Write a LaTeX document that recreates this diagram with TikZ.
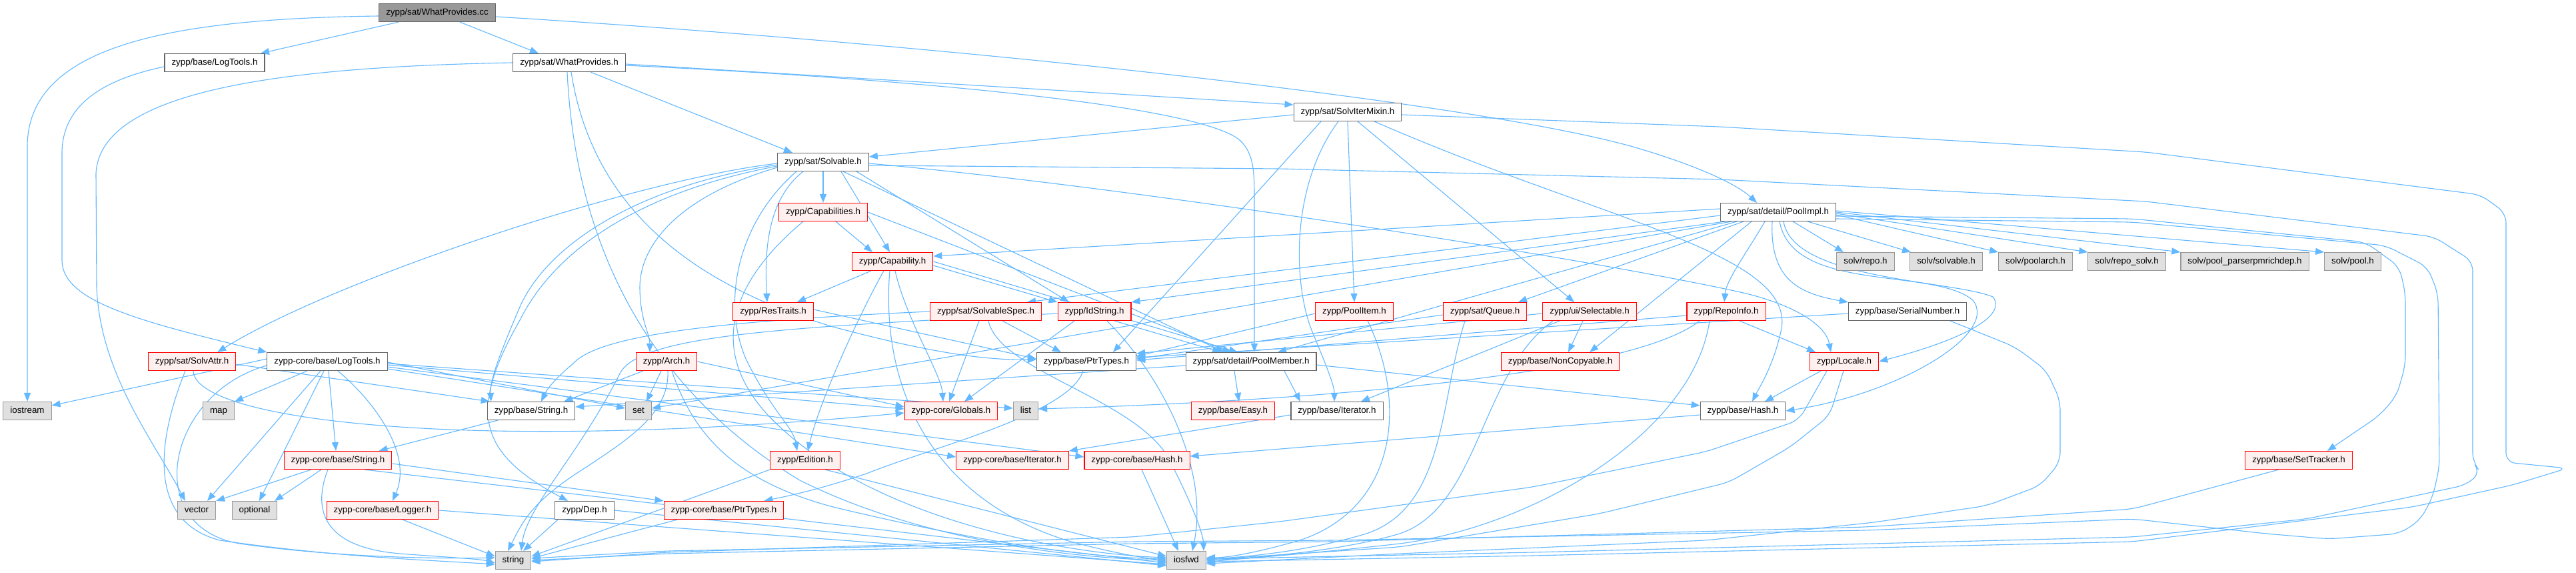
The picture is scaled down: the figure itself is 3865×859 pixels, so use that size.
\documentclass[tikz,border=0pt]{standalone}
\usepackage{fontspec}
\setmainfont{Liberation Sans}
\usetikzlibrary{arrows.meta}
\definecolor{edgeblue}{HTML}{63B8FF}
\definecolor{rootfill}{HTML}{999999}
\definecolor{nodeborder}{HTML}{666666}
\definecolor{redfill}{HTML}{FFF0F0}
\definecolor{sysfill}{HTML}{E0E0E0}
\definecolor{sysborder}{HTML}{999999}
\pgfdeclarelayer{bg}
\pgfsetlayers{bg,main}
\tikzset{
  box/.style={draw=nodeborder, fill=white, line width=1.1pt, minimum height=27pt,
    inner xsep=10.5pt, inner ysep=0pt, text height=9.6pt, text depth=2.8pt,
    font=\fontsize{13.33pt}{16pt}\selectfont, text=black},
  rootbox/.style={box, fill=rootfill},
  redbox/.style={box, draw=red, fill=redfill},
  sysbox/.style={box, draw=sysborder, fill=sysfill},
  arr/.style={draw=edgeblue, line width=1.1pt, -{Triangle[length=13pt,width=10pt]}},
}
\begin{document}
\begin{tikzpicture}[x=1pt,y=-1pt]
\useasboundingbox (0,0) rectangle (3865,859);
% ---------------- nodes ----------------
\node[rootbox] (root) at (656,19) {zypp/sat/WhatProvides.cc};
\node[box] (blt) at (322,94) {zypp/base/LogTools.h};
\node[box] (wph) at (854,94) {zypp/sat/WhatProvides.h};
\node[box] (sim) at (2022,168) {zypp/sat/SolvIterMixin.h};
\node[box] (solv) at (1235,243) {zypp/sat/Solvable.h};
\node[box] (pim) at (2668,318) {zypp/sat/detail/PoolImpl.h};
\node[redbox] (caps) at (1235,318) {zypp/Capabilities.h};
\node[redbox] (cap) at (1339,392) {zypp/Capability.h};
\node[sysbox] (repo) at (2799,392) {solv/repo.h};
\node[sysbox] (solvable) at (2920,392) {solv/solvable.h};
\node[sysbox] (poolarch) at (3054,392) {solv/poolarch.h};
\node[sysbox] (reposolv) at (3191,392) {solv/repo\_solv.h};
\node[sysbox] (richdep) at (3368,392) {solv/pool\_parserpmrichdep.h};
\node[sysbox] (pool) at (3530,392) {solv/pool.h};
\node[redbox] (restraits) at (1160,467) {zypp/ResTraits.h};
\node[redbox] (sspec) at (1479,467) {zypp/sat/SolvableSpec.h};
\node[redbox] (idstr) at (1642,467) {zypp/IdString.h};
\node[redbox] (poolitem) at (2032,467) {zypp/PoolItem.h};
\node[redbox] (queue) at (2228,467) {zypp/sat/Queue.h};
\node[redbox] (selectable) at (2385,467) {zypp/ui/Selectable.h};
\node[redbox] (repoinfo) at (2590,467) {zypp/RepoInfo.h};
\node[box] (serial) at (2862,467) {zypp/base/SerialNumber.h};
\node[redbox] (sattr) at (288,542) {zypp/sat/SolvAttr.h};
\node[box] (clt) at (491,542) {zypp-core/base/LogTools.h};
\node[redbox] (arch) at (1000,542) {zypp/Arch.h};
\node[box] (bptr) at (1630,542) {zypp/base/PtrTypes.h};
\node[box] (pmem) at (1877,542) {zypp/sat/detail/PoolMember.h};
\node[redbox] (noncopy) at (2341,542) {zypp/base/NonCopyable.h};
\node[redbox] (locale) at (2767,542) {zypp/Locale.h};
\node[sysbox] (iostream) at (41,616) {iostream};
\node[sysbox] (map) at (328,616) {map};
\node[box] (bstr) at (797,616) {zypp/base/String.h};
\node[sysbox] (set) at (958,616) {set};
\node[redbox] (globals) at (1427,616) {zypp-core/Globals.h};
\node[sysbox] (list) at (1539,616) {list};
\node[redbox] (easy) at (1850,616) {zypp/base/Easy.h};
\node[box] (biter) at (2006,616) {zypp/base/Iterator.h};
\node[box] (bhash) at (2615,616) {zypp/base/Hash.h};
\node[redbox] (cstr) at (507,690) {zypp-core/base/String.h};
\node[redbox] (edition) at (1208,690) {zypp/Edition.h};
\node[redbox] (citer) at (1519,690) {zypp-core/base/Iterator.h};
\node[redbox] (chash) at (1706,690) {zypp-core/base/Hash.h};
\node[redbox] (settracker) at (3449,690) {zypp/base/SetTracker.h};
\node[sysbox] (vector) at (295,765) {vector};
\node[sysbox] (optional) at (382,765) {optional};
\node[redbox] (logger) at (574,765) {zypp-core/base/Logger.h};
\node[box] (dep) at (877,765) {zypp/Dep.h};
\node[redbox] (cptr) at (1086,765) {zypp-core/base/PtrTypes.h};
\node[sysbox] (string) at (770,840) {string};
\node[sysbox] (iosfwd) at (1780,840) {iosfwd};
% ---------------- edges ----------------
\begin{pgfonlayer}{bg}
\fill[white] (0,0) rectangle (3865,859);
% root
\draw[arr] ([yshift=-5pt]root.west) .. controls (250,28) and (41,70) .. (41,220) -- (iostream.north);
\draw[arr] ([xshift=-58pt]root.south) -- ([xshift=69pt]blt.north);
\draw[arr] ([xshift=34pt]root.south) -- ([xshift=-46pt]wph.north);
\draw[arr] ([yshift=-6pt]root.east) .. controls (1400,65) and (2200,150) .. (2450,220) .. controls (2560,252) and (2610,280) .. ([xshift=-32pt]pim.north);
% zypp/base/LogTools.h
\draw[arr] ([yshift=-6pt]blt.west) .. controls (150,120) and (93,160) .. (93,230) -- (93,390) .. controls (93,450) and (200,480) .. (clt.north west);
% WhatProvides.h
\draw[arr] (wph.west) .. controls (450,100) and (150,130) .. (144,260) -- (145,430) .. controls (150,560) and (230,660) .. ([xshift=-17pt]vector.north);
\draw[arr] ([xshift=-3pt]wph.south) .. controls (865,400) and (1000,600) .. (1200,720) .. controls (1400,820) and (1650,838) .. (iosfwd.west);
\draw[arr] ([xshift=3pt]wph.south) .. controls (890,320) and (1050,430) .. (1250,490) .. controls (1400,530) and (1480,540) .. ([yshift=3pt]bptr.west);
\draw[arr] ([yshift=-4pt]wph.east) .. controls (1400,120) and (1800,160) .. (1860,210) .. controls (1882,230) and (1882,260) .. (1882,300) -- ([xshift=5pt]pmem.north);
\draw[arr] ([xshift=32pt]wph.south) -- ([xshift=-46pt]solv.north);
\draw[arr] ([yshift=-2pt]wph.east) -- ([yshift=11pt]sim.west);
% SolvIterMixin.h
\draw[arr, rounded corners=14pt] ([yshift=-4pt]sim.east) -- (2580,190) -- (3220,228) -- (3722,292) -- (3760,320) -- (3760,693) -- (3852,702) -- (3770,727) -- (3620,760) -- (3200,812) -- (2300,833) -- ([yshift=-2pt]iosfwd.east);
\draw[arr] ([xshift=-14pt]sim.south) .. controls (1935,280) and (1940,430) .. (1970,500) .. controls (1995,560) and (2002,580) .. ([xshift=-4pt]biter.north);
\draw[arr] ([xshift=40pt]sim.south) .. controls (2400,330) and (2700,380) .. (2672,497) .. controls (2660,550) and (2640,580) .. ([xshift=14pt]bhash.north);
\draw[arr] ([yshift=-4pt]sim.west) -- ([yshift=8pt]solv.east);
\draw[arr] (sim.south) -- (poolitem.north);
\draw[arr] ([xshift=15pt]sim.south) -- ([xshift=-23pt]selectable.north);
\draw[arr] ([xshift=-40pt]sim.south) -- ([xshift=40pt]bptr.north);
% Solvable.h
\draw[arr, rounded corners=14pt] ([yshift=-5pt]solv.east) -- (1920,253) -- (2580,269) -- (3220,302) -- (3652,355) -- (3710,392) -- (3710,693) -- (3722,708) -- (3700,727) -- (3460,778) -- (3200,805) -- (2300,828) -- ([yshift=2pt]iosfwd.east);
\draw[arr] ([xshift=30pt]solv.south) -- ([xshift=-40pt]pmem.north);
\draw[arr] ([yshift=-2pt]solv.west) .. controls (950,270) and (500,420) .. ([xshift=-28pt]sattr.north east);
\draw[arr] ([xshift=-30pt]solv.south) .. controls (1150,300) and (1147,380) .. ([xshift=-9pt]restraits.north);
\draw[arr] ([xshift=50pt]solv.south) -- ([xshift=-38pt]idstr.north);
\draw[arr] ([xshift=-40pt]solv.south) .. controls (1110,330) and (1080,450) .. (1120,540) .. controls (1160,620) and (1190,640) .. ([xshift=-12pt]edition.north);
\draw[arr] ([yshift=-8pt]solv.west) .. controls (1000,300) and (960,380) .. (960,430) .. controls (960,480) and (975,500) .. ([xshift=-25pt]arch.north);
\draw[arr] ([yshift=-6pt]solv.west) .. controls (950,290) and (830,380) .. (780,480) .. controls (700,620) and (720,680) .. ([xshift=-25pt]dep.north);
\draw[arr] ([yshift=-4pt]solv.west) .. controls (950,280) and (820,370) .. (780,460) .. controls (750,530) and (735,570) .. ([xshift=6pt]bstr.north west);
\draw[arr] (solv.south) -- (caps.north);
\draw[arr] ([xshift=27pt]solv.south) -- ([xshift=-4pt]cap.north);
\draw[arr] ([yshift=-2pt]solv.east) .. controls (1700,280) and (2400,390) .. (2620,440) .. controls (2700,460) and (2740,490) .. ([xshift=-20pt]locale.north);
% Capabilities.h
\draw[arr] ([xshift=19pt]caps.south) -- ([xshift=-30pt]cap.north);
\draw[arr] (caps.east) -- ([xshift=-30pt]pmem.north);
\draw[arr] ([xshift=-30pt]caps.south) .. controls (1100,420) and (1060,520) .. (1150,620) .. controls (1300,780) and (1600,830) .. ([yshift=4pt]iosfwd.west);
% Capability.h
\draw[arr] ([xshift=-32pt]cap.south) -- ([xshift=36pt]restraits.north);
\draw[arr] ([xshift=-13pt]cap.south) .. controls (1290,470) and (1230,600) .. ([xshift=4pt]edition.north);
\draw[arr] ([xshift=-4pt]cap.south) .. controls (1322,560) and (1380,740) .. (1600,810) .. controls (1680,832) and (1720,836) .. ([yshift=-2pt]iosfwd.west);
\draw[arr] ([xshift=4pt]cap.south) .. controls (1360,480) and (1412,560) .. ([xshift=-12pt]globals.north);
\draw[arr] ([yshift=-6pt]cap.east) -- (idstr.north west);
\draw[arr] (cap.east) -- ([xshift=-20pt]pmem.north);
% SolvAttr.h
\draw[arr] ([xshift=-10pt]sattr.south) .. controls (240,650) and (215,780) .. (330,810) .. controls (500,835) and (650,840) .. ([yshift=-6pt]string.west);
\draw[arr] ([yshift=-4pt]sattr.east) -- ([xshift=4pt]bstr.north west);
\draw[arr] ([xshift=2pt]sattr.south) .. controls (292,630) and (700,680) .. ([yshift=-3pt]globals.west);
% zypp-core/base/LogTools.h
\draw[arr] ([yshift=4pt]clt.west) -- ([yshift=8pt]iostream.east);
\draw[arr] ([yshift=-6pt]clt.west) .. controls (250,590) and (210,790) .. (360,815) .. controls (500,835) and (650,838) .. ([yshift=4pt]string.west);
\draw[arr] ([xshift=-30pt]clt.south) -- (map.north east);
\draw[arr] ([xshift=-10pt]clt.south) -- ([xshift=16pt]vector.north);
\draw[arr] ([xshift=-5pt]clt.south) -- ([xshift=7pt]optional.north);
\draw[arr] ([xshift=2pt]clt.south) -- ([xshift=-3pt]cstr.north);
\draw[arr] ([xshift=16pt]clt.south) .. controls (560,600) and (620,680) .. ([xshift=15pt]logger.north);
\draw[arr] ([yshift=-3pt]clt.east) -- ([yshift=4pt]list.west);
\draw[arr] ([yshift=-1pt]clt.east) -- ([yshift=4pt]set.west);
\draw[arr] ([yshift=-8pt]clt.east) -- ([yshift=5pt]chash.west);
\draw[arr] ([yshift=-11pt]clt.east) -- ([yshift=5pt]citer.west);
\draw[arr] ([yshift=-5pt]clt.east) -- ([yshift=3pt]globals.west);
% zypp-core/base/String.h
\draw[arr] ([xshift=-40pt]cstr.south) -- (vector.north east);
\draw[arr] ([xshift=-25pt]cstr.south) -- ([xshift=30pt]optional.north);
\draw[arr] ([xshift=-15pt]cstr.south) .. controls (470,760) and (480,820) .. (600,830) .. controls (680,836) and (720,838) .. ([yshift=-4pt]string.west);
\draw[arr] ([yshift=-5pt]cstr.east) -- (cptr.north west);
\draw[arr] ([xshift=40pt]cstr.south) -- ([yshift=-4pt]iosfwd.west);
% Logger.h
\draw[arr] ([xshift=30pt]logger.south) -- ([yshift=6pt]string.west);
\draw[arr] (logger.east) -- ([yshift=-6pt]iosfwd.west);
% ResTraits.h
\draw[arr] ([yshift=3pt]restraits.east) -- ([yshift=4pt]bptr.west);
% Arch.h
\draw[arr] ([xshift=-35pt]arch.south) -- ([xshift=-17pt]bstr.north east);
\draw[arr] ([xshift=-8pt]arch.south) -- ([xshift=12pt]set.north);
\draw[arr] ([xshift=2pt]arch.south) .. controls (1005,620) and (940,660) .. (880,700) .. controls (800,750) and (785,780) .. ([xshift=-8pt]string.north);
\draw[arr] ([xshift=8pt]arch.south) .. controls (1040,650) and (1100,720) .. (1250,760) .. controls (1500,820) and (1650,836) .. ([yshift=2pt]iosfwd.west);
\draw[arr] (arch.east) -- ([yshift=6pt]globals.west);
% zypp/base/String.h
\draw[arr] ([xshift=-50pt]bstr.south) -- ([xshift=-20pt]cstr.north east);
% Edition.h, Dep.h, PtrTypes
\draw[arr] (edition.south west) -- ([yshift=6pt]string.east);
\draw[arr] ([xshift=30pt]edition.south) -- ([yshift=6pt]iosfwd.west);
\draw[arr] ([xshift=-40pt]dep.south) -- ([xshift=15pt]string.north);
\draw[arr] (dep.east) -- ([yshift=-8pt]iosfwd.west);
\draw[arr] ([xshift=-70pt]cptr.south) -- ([yshift=3pt]string.east);
% SolvableSpec.h
\draw[arr] (sspec.west) .. controls (1100,480) and (900,500) .. (860,545) .. controls (830,570) and (820,585) .. ([xshift=15pt]bstr.north);
\draw[arr] ([xshift=-10pt]sspec.south) -- ([xshift=-3pt]globals.north);
\draw[arr] ([xshift=25pt]sspec.south) -- ([xshift=-38pt]bptr.north);
\draw[arr] ([xshift=4pt]sspec.south) .. controls (1500,560) and (1720,600) .. (1760,700) .. controls (1790,760) and (1805,800) .. ([xshift=26pt]iosfwd.north);
% IdString.h
\draw[arr] ([yshift=-3pt]idstr.west) .. controls (1200,490) and (960,500) .. (930,560) .. controls (870,680) and (790,760) .. ([xshift=12pt]string.north);
\draw[arr] ([xshift=-30pt]idstr.south) -- ([xshift=20pt]globals.north);
\draw[arr] ([xshift=19pt]idstr.south) .. controls (1740,560) and (1815,700) .. ([xshift=9pt]iosfwd.north);
\draw[arr] ([xshift=30pt]idstr.south) -- ([xshift=-45pt]pmem.north);
% zypp/base/PtrTypes.h
\draw[arr] ([xshift=-5pt]bptr.south) .. controls (1605,620) and (1400,670) .. (1300,710) .. controls (1240,730) and (1200,740) .. ([xshift=-30pt]cptr.north east);
% PoolMember.h
\draw[arr] ([xshift=-25pt]pmem.south) -- ([xshift=9pt]easy.north);
\draw[arr] ([xshift=50pt]pmem.south) -- ([xshift=-55pt]biter.north);
\draw[arr] ([yshift=-5pt]pmem.east) -- ([yshift=8pt]bhash.west);
\draw[arr] ([yshift=-6pt]pmem.west) -- ([yshift=6pt]bstr.east);
% core Hash
\draw[arr] ([xshift=7pt]chash.south) -- ([xshift=-12pt]iosfwd.north);
% PoolItem, Queue, Selectable, RepoInfo
\draw[arr] ([xshift=20pt]poolitem.south) .. controls (2110,600) and (2100,760) .. (1950,810) .. controls (1880,830) and (1840,836) .. ([yshift=4pt]iosfwd.east);
\draw[arr] ([yshift=-3pt]poolitem.west) -- ([yshift=8pt]bptr.east);
\draw[arr] ([yshift=-5pt]queue.west) -- ([yshift=4pt]bptr.east);
\draw[arr] ([xshift=-30pt]queue.south) .. controls (2160,600) and (2170,760) .. (2050,800) .. controls (1950,830) and (1850,836) .. ([yshift=2pt]iosfwd.east);
\draw[arr] ([xshift=-10pt]selectable.south) -- ([xshift=12pt]noncopy.north);
\draw[arr] ([xshift=-45pt]selectable.south) -- ([xshift=36pt]biter.north);
\draw[arr] ([xshift=-55pt]selectable.south) .. controls (2220,560) and (2220,760) .. (2100,800) .. controls (2000,830) and (1850,838) .. (iosfwd.east);
\draw[arr] ([yshift=-3pt]selectable.west) -- ([yshift=12pt]bptr.east);
\draw[arr] ([xshift=20pt]repoinfo.south) -- ([xshift=-43pt]locale.north);
\draw[arr] ([yshift=-6pt]repoinfo.west) -- ([yshift=2pt]bptr.east);
\draw[arr] ([xshift=-40pt]repoinfo.south) .. controls (2450,560) and (2000,600) .. ([yshift=3pt]list.east);
\draw[arr] ([xshift=-25pt]repoinfo.south) .. controls (2540,650) and (2300,790) .. (2100,815) .. controls (1950,832) and (1850,838) .. ([yshift=-3pt]iosfwd.east);
% zypp/base/Iterator.h, Hash.h
\draw[arr] ([yshift=-6pt]biter.west) -- (citer.north east);
\draw[arr] ([yshift=-6pt]bhash.west) -- ([yshift=6pt]chash.east);
% SerialNumber.h
\draw[arr] ([yshift=-3pt]serial.west) -- ([yshift=6pt]bptr.east);
\draw[arr, rounded corners=15pt] ([xshift=64pt]serial.south) -- (3023,520) -- (3070,555) -- (3091,600) -- (3091,693) -- (3061,728) -- (2981,758) -- (2812,783) -- (2560,810) -- (2100,830) -- ([yshift=-5pt]iosfwd.east);
% Locale.h
\draw[arr] ([xshift=-35pt]locale.south) -- ([xshift=33pt]bhash.north);
\draw[arr, rounded corners=15pt] ([xshift=-1pt]locale.south) -- (2745,623) -- (2686,670) -- (2594,723) -- (2400,770) -- (2100,820) -- ([yshift=1pt]iosfwd.east);
\draw[arr, rounded corners=15pt] ([xshift=-26pt]locale.south) -- (2699,630) -- (2560,677) -- (2300,730) -- (1920,782) -- (1700,805) -- (1000,828) -- ([yshift=-2pt]string.east);
% SetTracker.h
\draw[arr, rounded corners=15pt] ([xshift=-30pt]settracker.south) -- (3200,763) -- (2800,790) -- (2000,812) -- (1700,815) -- (1000,830) -- ([yshift=0pt]string.east);
% PoolImpl.h
\draw[arr] ([yshift=5pt]pim.west) -- ([yshift=8pt]cap.east);
\draw[arr] ([yshift=-5pt]pim.west) -- ([xshift=62pt]sspec.north);
\draw[arr] ([xshift=-80pt]pim.south) -- (idstr.north east);
\draw[arr] ([xshift=-62pt]pim.south) -- ([xshift=40pt]pmem.north);
\draw[arr] ([xshift=-52pt]pim.south) -- ([xshift=50pt]queue.north);
\draw[arr] ([xshift=-40pt]pim.south) -- ([xshift=44pt]noncopy.north);
\draw[arr] ([xshift=-20pt]pim.south) .. controls (2620,380) and (2590,420) .. ([xshift=-3pt]repoinfo.north);
\draw[arr] ([xshift=-9pt]pim.south) .. controls (2655,420) and (2700,440) .. (serial.north west);
\draw[arr] ([xshift=8pt]pim.south) .. controls (2690,420) and (2930,420) .. (2990,445) .. controls (3010,470) and (2960,505) .. (locale.east);
\draw[arr] ([xshift=2pt]pim.south) .. controls (2690,440) and (2900,400) .. (2960,450) .. controls (3000,500) and (2850,590) .. (bhash.east);
\draw[arr] ([xshift=-70pt]pim.south) -- ([yshift=4pt]set.east);
\draw[arr] ([xshift=22pt]pim.south) -- ([xshift=-33pt]repo.north);
\draw[arr] ([xshift=44pt]pim.south) -- ([xshift=-53pt]solvable.north);
\draw[arr] ([yshift=-4pt]pim.east) -- (poolarch.north west);
\draw[arr] ([yshift=-2pt]pim.east) -- (reposolv.north west);
\draw[arr] ([yshift=0pt]pim.east) -- (richdep.north west);
\draw[arr] ([yshift=2pt]pim.east) -- (pool.north west);
\draw[arr, rounded corners=15pt] ([yshift=-6pt]pim.east) -- (3200,328) -- (3549,363) -- (3600,400) -- (3609,440) -- (3609,547) -- (3596,593) -- (3570,623) -- ([xshift=-38pt]settracker.north east);
\draw[arr, rounded corners=15pt] ([yshift=-10pt]pim.east) -- (3200,333) -- (3579,368) -- (3642,400) -- (3658,440) -- (3660,700) -- (3650,745) -- (3631,780) -- (3600,800) -- (3494,808) -- (3400,800) -- (3200,778) -- (2800,795) -- (2000,810) -- (1700,812) -- (1000,826) -- ([yshift=3pt]string.east);
\end{pgfonlayer}
\end{tikzpicture}
\end{document}
